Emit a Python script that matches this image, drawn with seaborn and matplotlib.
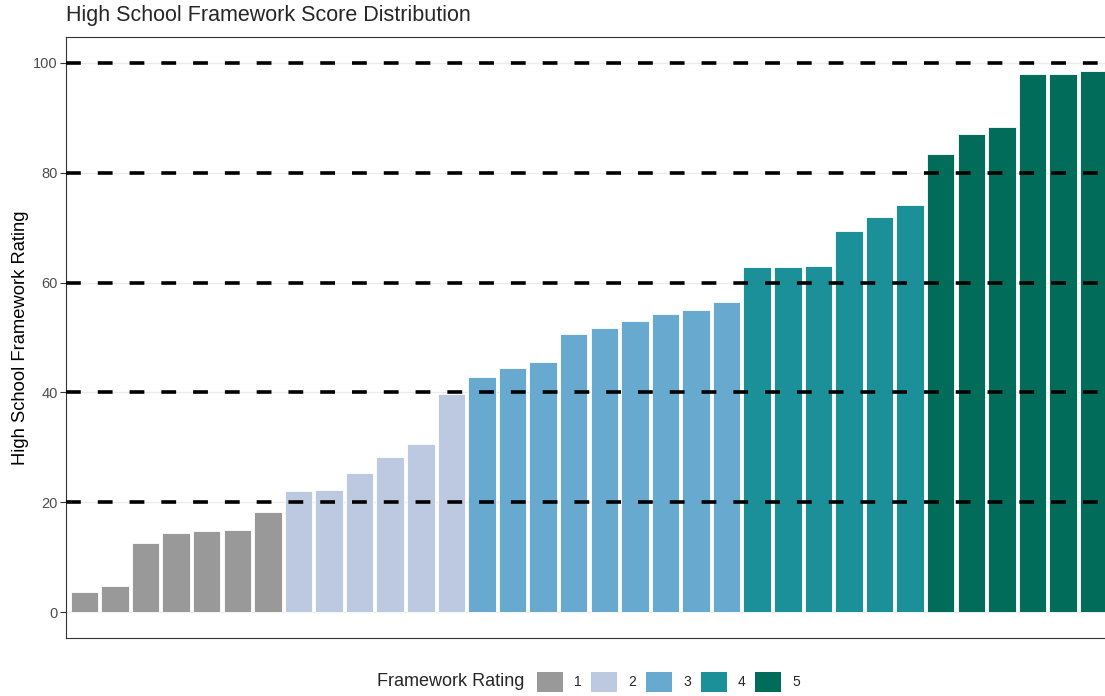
import pandas as pd
import matplotlib.pyplot as plt
import matplotlib.patches as mpatches
import seaborn as sns

sns.set_theme(style="white")
plt.rcParams["font.family"] = ["Liberation Sans", "DejaVu Sans"]

# valores, por faixa de rating
scores_1 = [3.7, 4.8, 12.65, 14.4, 14.75, 15.0, 18.25]
scores_2 = [22.1, 22.2, 25.4, 28.2, 30.65, 39.8]
scores_3 = [42.9, 44.5, 45.5, 50.7, 51.8, 53.0, 54.2, 55.0, 56.4]
scores_4 = [62.75, 62.85, 63.05, 69.4, 71.9, 74.1]
scores_5 = [83.4, 87.0, 88.4, 97.9, 97.95, 98.6]
ratings = ["1", "2", "3", "4", "5"]
colors = ["#999999", "#bdc9e1", "#67a9cf", "#1c9099", "#016c59"]
ref_lines = [20, 40, 60, 80, 100]
y_ticks = [0, 20, 40, 60, 80, 100]

linhas = []
for rating, valores in zip(ratings, [scores_1, scores_2, scores_3, scores_4, scores_5]):
    for v in valores:
        linhas.append({"rating": rating, "score": v})
df = pd.DataFrame(linhas)
df["escola"] = [str(i) for i in range(len(df))]

fig = plt.figure(figsize=(11.05, 6.96), dpi=100)
ax = fig.add_axes([66 / 1105, 58 / 696, 1046 / 1105, 601 / 696])

for y in y_ticks:
    ax.axhline(y, color="#ebebeb", linewidth=1.0, zorder=0)

sns.barplot(data=df, x="escola", y="score", hue="rating",
            palette=dict(zip(ratings, colors)), dodge=False, width=0.9,
            saturation=1, edgecolor="white", linewidth=0.6, legend=False,
            ax=ax, zorder=2)

for y in ref_lines:
    ax.axhline(y, color="black", linewidth=2.6, linestyle=(0, (4.1, 4.7)), zorder=3)

ax.set_xlim(-0.6, len(df) - 0.4)
ax.set_ylim(-4.7, 104.7)
ax.set_yticks(y_ticks)
ax.set_xticks([])
ax.set_xlabel("")
ax.set_ylabel("High School Framework Rating", fontsize=13.2, color="black", labelpad=3)
ax.tick_params(axis="y", length=4, width=0.8, color="#333333", labelcolor="#4d4d4d",
               labelsize=10.5, pad=2, left=True)
for s in ax.spines.values():
    s.set_color("#333333")
    s.set_linewidth(0.8)
ax.grid(False)

fig.text(66 / 1105, 1 - 16 / 696, "High School Framework Score Distribution",
         fontsize=15.5, ha="left", va="center")

# legenda na parte de baixo
fig.text(377 / 1105, 1 - 682 / 696, "Framework Rating", fontsize=13, ha="left", va="center")
handles = [mpatches.Patch(facecolor=c, edgecolor="none") for c in colors]
fig.legend(handles, ratings, loc="center left", bbox_to_anchor=(537 / 1105, 1 - 682 / 696),
           ncol=5, frameon=False, fontsize=10, handlelength=1.87, handleheight=1.87,
           handletextpad=0.8, columnspacing=0.7, borderpad=0, borderaxespad=0)

plt.savefig("out.png", dpi=100)
plt.close()
